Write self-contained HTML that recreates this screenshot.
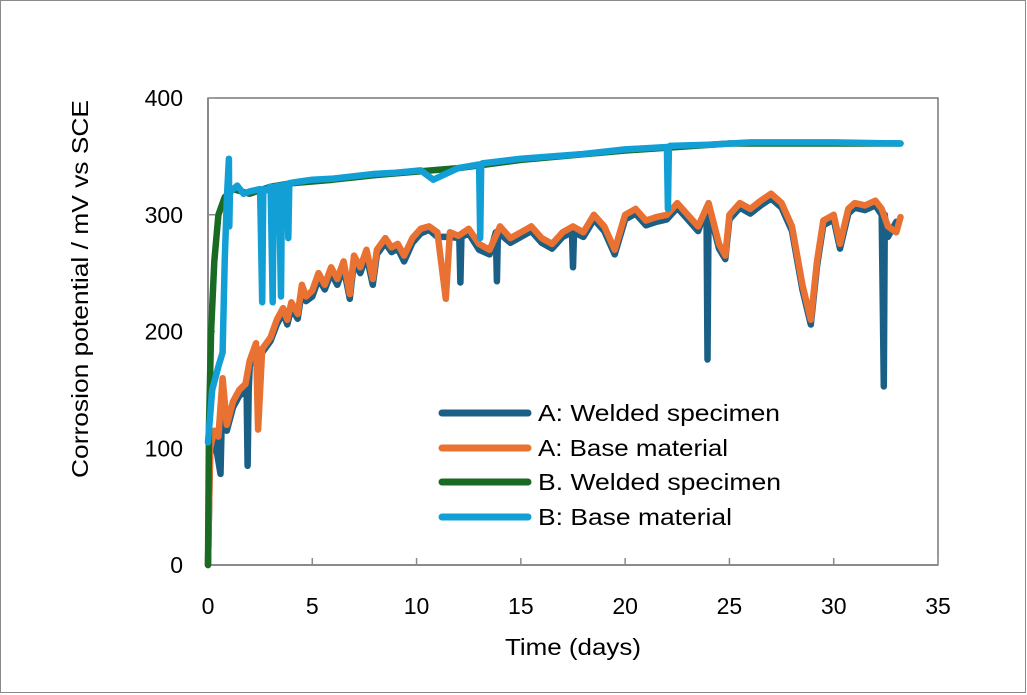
<!DOCTYPE html>
<html><head><meta charset="utf-8"><style>
html,body{margin:0;padding:0;background:#fff}
svg{display:block;font-family:"Liberation Sans",sans-serif}
</style></head><body>
<svg id="chart" width="1027" height="695" viewBox="0 0 1027 695">
<rect x="0.5" y="0.5" width="1025" height="692" fill="#fff" stroke="#8a8a8a"/>
<g id="plot"></g>
</svg>
<script>
const xTicks=[0,5,10,15,20,25,30,35];
const yTicks=[0,100,200,300,400];
const seriesNames=["A: Welded specimen","A: Base material","B. Welded specimen","B: Base material"];
const baseA_t=[0,0.1,0.3,0.5,0.7,0.9,1.2,1.5,1.8,2.0,2.3,2.4,2.6,3.0,3.3,3.6,3.8,4.0,4.3,4.5,4.7,5.0,5.3,5.6,5.9,6.2,6.5,6.8,7.0,7.3,7.6,7.9,8.1,8.5,8.8,9.1,9.4,9.8,10.2,10.6,11.0,11.4,11.6,12,12.5,13,13.5,14,14.5,15,15.5,16,16.5,17,17.5,18,18.5,19,19.5,20,20.5,21,21.5,22,22.5,23,23.5,24,24.5,24.8,25,25.5,26,26.5,27,27.5,28,28.5,28.9,29.2,29.5,30,30.3,30.7,31,31.5,32,32.3,32.6,33,33.2];
const baseA_v=[0,100,115,110,160,120,140,150,155,175,190,116,185,195,210,220,210,225,215,240,230,235,250,240,255,245,260,232,265,255,270,245,270,280,272,275,265,280,288,290,285,228,285,282,288,275,270,290,280,285,290,280,275,285,290,285,300,290,270,300,305,295,298,300,310,300,290,310,275,265,300,310,305,312,318,310,290,240,210,260,295,300,275,305,310,308,312,305,290,285,298];
const weldA_t=[0,0.1,0.3,0.6,0.7,0.9,1.2,1.5,1.85,1.9,1.95,2.0,2.3,2.6,3.0,3.3,3.6,3.8,4.0,4.3,4.5,4.7,5.0,5.3,5.6,5.9,6.2,6.5,6.8,7.0,7.3,7.6,7.9,8.1,8.5,8.8,9.1,9.4,9.8,10.2,10.6,11.0,11.6,12.05,12.1,12.15,12.5,13,13.5,13.8,13.85,13.9,14.5,15,15.5,16,16.5,17,17.45,17.5,17.55,18,18.5,19,19.5,20,20.5,21,21.5,22,22.5,23,23.5,23.9,23.95,24.0,24.5,24.8,25,25.5,26,26.5,27,27.5,28,28.5,28.9,29.2,29.5,30,30.3,30.7,31,31.5,32,32.3,32.4,32.45,32.5,32.6,33,33.2];
const weldA_v=[0,95,110,78,155,115,135,145,150,85,150,170,186,182,192,206,216,206,220,211,235,226,230,245,236,250,240,255,228,260,250,265,240,266,276,268,271,260,276,284,287,281,281,280,242,281,284,270,266,285,243,285,276,281,286,276,271,281,285,255,285,281,296,286,266,296,301,291,294,296,306,296,286,306,176,306,271,262,296,306,301,308,314,306,286,236,206,256,291,296,271,301,306,304,308,300,153,300,286,281,294];
const weldB_t=[0,0.05,0.15,0.3,0.5,0.8,1.2,2,3,4,6,8,10,12,15,20,25,33.2];
const weldB_v=[0,120,200,260,300,315,322,318,324,327,330,334,337,340,347,355,361,361];
const baseB_t=[0,0.2,0.5,0.7,0.8,0.9,1.0,1.02,1.05,1.1,1.4,1.7,2.0,2.5,2.6,2.65,2.7,3.0,3.1,3.15,3.2,3.4,3.5,3.55,3.6,3.8,3.85,3.9,4.2,5,6,7,8,9,10.2,10.8,12,13,13.05,13.1,13.15,15,18,20,22,22.05,22.1,22.15,24,26,28,30,33.2];
const baseB_v=[105,150,170,182,260,313,348,290,318,320,325,318,320,322,225,322,320,324,225,322,324,325,230,325,326,326,280,327,328,330,331,333,335,336,338,330,340,343,280,343,344,348,352,356,358,305,358,359,360,362,362,362,361];
const colors=["#1a5f86","#e97132","#196b24","#129fd6"];

const X0=208,X1=938,Y0=565,Y1=98;
function sx(t){return X0+(t-xTicks[0])/(xTicks[xTicks.length-1]-xTicks[0])*(X1-X0);}
function sy(v){return Y0-(v-yTicks[0])/(yTicks[yTicks.length-1]-yTicks[0])*(Y0-Y1);}
const NS="http://www.w3.org/2000/svg";
const g=document.getElementById('plot');
function mk(tag,attrs,parent){const e=document.createElementNS(NS,tag);for(const k in attrs)e.setAttribute(k,attrs[k]);(parent||g).appendChild(e);return e;}

const frame=mk('rect',{x:X0,y:Y1,width:X1-X0,height:Y0-Y1,fill:'none',stroke:'#555','stroke-width':1.2});


const yax=mk('line',{x1:X0,y1:Y1,x2:X0,y2:Y0,stroke:'#8a8a8a','stroke-width':2});


const xax=mk('line',{x1:X0,y1:Y0,x2:X1,y2:Y0,stroke:'#8a8a8a','stroke-width':2});



xTicks.forEach(t=>{
  const tk=mk('line',{x1:sx(t),y1:Y0,x2:sx(t),y2:Y0-7,stroke:'#8a8a8a','stroke-width':1.5});
  
  
  const lb=mk('text',{x:sx(t),y:Y0+49,'text-anchor':'middle','font-size':23,fill:'#000'});
  lb.textContent=t;
  
  
});
yTicks.forEach(v=>{
  const tk=mk('line',{x1:X0,y1:sy(v),x2:X0+7,y2:sy(v),stroke:'#8a8a8a','stroke-width':1.5});
  
  
  const lb=mk('text',{x:183,y:sy(v)+8,'text-anchor':'end','font-size':23,fill:'#000'});
  lb.textContent=v;
  
  
});

function path(ts,vs){return ts.map((t,i)=>(i?'L':'M')+sx(t).toFixed(1)+','+sy(vs[i]).toFixed(1)).join(' ');}
const series=[[weldA_t,weldA_v],[baseA_t,baseA_v],[weldB_t,weldB_v],[baseB_t,baseB_v]];
const sNames=['series-a-welded','series-a-base','series-b-welded','series-b-base'];
series.forEach((s,i)=>{
  const p=mk('path',{d:path(s[0],s[1]),fill:'none',stroke:colors[i],'stroke-width':6.5,'stroke-linejoin':'round','stroke-linecap':'round'});
  
  
});

const legY=[413,448,482,517];
const legLen=[242,190,243,194];
seriesNames.forEach((n,i)=>{
  const l=mk('line',{x1:442,y1:legY[i],x2:528,y2:legY[i],stroke:colors[i],'stroke-width':7,'stroke-linecap':'round'});
  
  
  const t=mk('text',{x:538,y:legY[i]+8,'font-size':23,fill:'#000',textLength:legLen[i],lengthAdjust:'spacingAndGlyphs'});
  t.textContent=n;
  
  
});

const xt=mk('text',{x:573,y:655,'text-anchor':'middle','font-size':23,fill:'#000',textLength:136,lengthAdjust:'spacingAndGlyphs'});
xt.textContent='Time (days)';


const yt=mk('text',{x:0,y:0,'text-anchor':'middle','font-size':23,fill:'#000',textLength:378,lengthAdjust:'spacingAndGlyphs',transform:'translate(88,289) rotate(-90)'});
yt.textContent='Corrosion potential / mV vs SCE';


</script>
</body></html>
